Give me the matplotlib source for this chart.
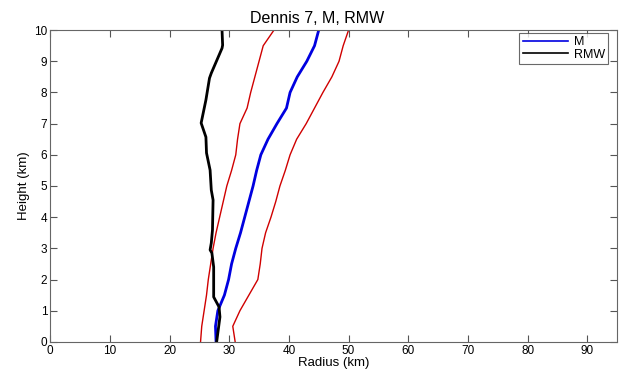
import numpy as np
import matplotlib
matplotlib.use('Agg')
import matplotlib.pyplot as plt

plt.rcParams['font.family'] = ['Liberation Sans', 'DejaVu Sans']

# heights (km) for M and the red envelope
height = [0, 0.5, 1.0, 1.5, 2.0, 2.5, 3.0, 3.5, 4.0, 4.5, 5.0,
          5.5, 6.0, 6.5, 7.0, 7.5, 8.0, 8.5, 9.0, 9.5, 10.0]

m_radius = [27.8, 27.7, 28.1, 29.2, 29.9, 30.4, 31.1, 31.9, 32.6, 33.3, 34.0,
            34.6, 35.3, 36.5, 38.0, 39.6, 40.2, 41.4, 43.0, 44.3, 45.0]
m_low = [25.2, 25.4, 25.8, 26.2, 26.5, 26.9, 27.3, 27.8, 28.4, 29.0, 29.6,
         30.4, 31.1, 31.4, 31.8, 33.0, 33.6, 34.3, 35.0, 35.7, 37.5]
m_high = [31.0, 30.6, 31.8, 33.3, 34.8, 35.2, 35.5, 36.1, 37.0, 37.8, 38.5,
          39.4, 40.2, 41.3, 42.9, 44.3, 45.7, 47.2, 48.4, 49.1, 50.0]

# RMW
rmw_height = [0, 0.8, 1.12, 1.44, 2.4, 2.85, 2.95, 3.17, 3.59, 4.55, 4.87,
              5.51, 6.06, 6.57, 7.02, 7.76, 8.46, 8.62, 9.42, 9.52, 10.0]
rmw_radius = [27.9, 28.45, 28.3, 27.4, 27.4, 27.1, 26.8, 27.0, 27.2, 27.3, 27.0,
              26.8, 26.2, 26.1, 25.3, 26.1, 26.7, 27.0, 28.8, 28.9, 28.8]

fig = plt.figure(figsize=(6.19, 3.72), dpi=100)
ax = fig.add_axes([0.081, 0.081, 0.916, 0.838])

ax.plot(m_low, height, color='#d00000', lw=1.0)
ax.plot(m_high, height, color='#d00000', lw=1.0)
l1, = ax.plot(m_radius, height, color='#0000e0', lw=2.0, label='M')
l2, = ax.plot(rmw_radius, rmw_height, color='black', lw=2.0, label='RMW')

ax.set_xlim(0, 95)
ax.set_ylim(0, 10)
ax.set_xticks(np.arange(0, 91, 10))
ax.set_yticks(np.arange(0, 11, 1))
ax.tick_params(direction='in', top=True, right=True, labelsize=8.5,
               length=5, color='#555555', pad=2)
for s in ax.spines.values():
    s.set_color('#666666')
    s.set_linewidth(0.8)

ax.set_xlabel('Radius (km)', fontsize=9.5, labelpad=0)
ax.set_ylabel('Height (km)', fontsize=9.5, labelpad=3)
ax.set_title('Dennis 7, M, RMW', fontsize=11.5, pad=5, x=0.47)

leg = ax.legend(handles=[l1, l2], loc='upper right', fontsize=9,
                frameon=True, fancybox=False, handlelength=3.6,
                borderpad=0.25, labelspacing=0.05, handletextpad=0.5,
                borderaxespad=0, bbox_to_anchor=(0.984, 0.991))
leg.get_frame().set_edgecolor('#444444')
leg.get_frame().set_linewidth(0.8)
for line in leg.get_lines():
    line.set_linewidth(1.2)

fig.savefig('out.png', dpi=100)
